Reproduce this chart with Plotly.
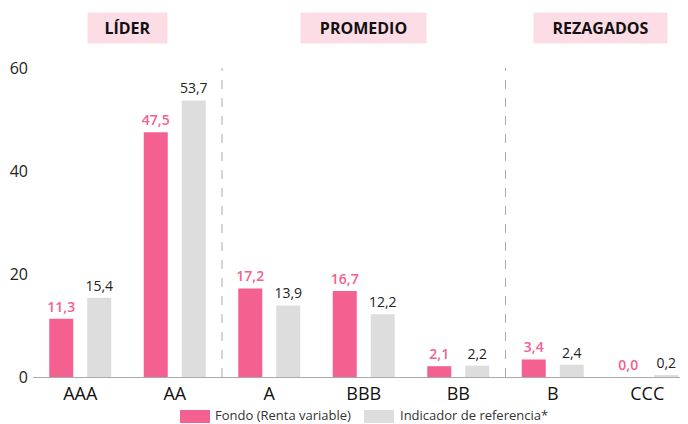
import plotly.graph_objects as go

categories = ["AAA", "AA", "A", "BBB", "BB", "B", "CCC"]
fondo = [11.3, 47.5, 17.2, 16.7, 2.1, 3.4, 0.0]
indicador = [15.4, 53.7, 13.9, 12.2, 2.2, 2.4, 0.2]
series_names = ["Fondo (Renta variable)", "Indicador de referencia*"]
groups = ["LÍDER", "PROMEDIO", "REZAGADOS"]
group_centers = [0.5, 3, 5.5]
group_widths = [79, 125, 133]
dividers = [1.5, 4.5]
y_ticks = [0, 20, 40, 60]

PINK = "#f46090"
GREY = "#dddddd"
FONT = "Open Sans"

# page has an 8px body margin: figure is 680x416 so it ends at 688x424
L, T, B = 25, 60, 47
W, H = 680, 416
PW = W - L
PH = H - T - B

fig = go.Figure()
fig.add_trace(go.Bar(
    x=categories, y=fondo, name=series_names[0],
    marker=dict(color=PINK, line=dict(width=0)),
    width=0.254, offset=-0.328,
    texttemplate="%{y:.1f}", textposition="outside", constraintext="none",
    textfont=dict(color=PINK, size=14, family=FONT, weight=600),
    cliponaxis=False, showlegend=False,
))
fig.add_trace(go.Bar(
    x=categories, y=indicador, name=series_names[1],
    marker=dict(color=GREY, line=dict(width=0)),
    width=0.254, offset=0.074,
    texttemplate="%{y:.1f}", textposition="outside", constraintext="none",
    textfont=dict(color="#222222", size=14, family=FONT),
    cliponaxis=False, showlegend=False,
))

for d in dividers:
    fig.add_shape(type="line", xref="x", yref="y", x0=d, x1=d, y0=0, y1=60.6,
                  line=dict(color="#aaaaaa", width=1, dash="dash"))

for g, c, w in zip(groups, group_centers, group_widths):
    fig.add_annotation(x=c, xref="x", y=1 + 40 / PH, yref="paper", text="<b>%s</b>" % g,
                       showarrow=False, bgcolor="#fcdde6", width=w, height=30,
                       borderpad=0, xanchor="center", yanchor="middle",
                       font=dict(family=FONT, size=16, color="#111111"))

# custom legend (positions in page pixels, converted to paper)
def px_to_paper(xp):
    return (xp - 8 - L) / PW

leg_y = -(416 - 377) / PH
items = [(PINK, series_names[0], 180, 213), (GREY, series_names[1], 364, 398)]
for col, name, sx, tx in items:
    fig.add_shape(type="rect", xref="paper", yref="paper",
                  x0=px_to_paper(sx), x1=px_to_paper(sx + 30),
                  y0=leg_y - 7 / PH, y1=leg_y + 6 / PH,
                  fillcolor=col, line=dict(width=0))
    fig.add_annotation(x=px_to_paper(tx), xref="paper", y=(-(414.5 - 377) / PH), yref="paper",
                       text=name, showarrow=False, xanchor="left", yanchor="middle",
                       font=dict(family=FONT, size=13, color="#333333"))

fig.update_layout(
    width=W, height=H,
    margin=dict(l=L, r=0, t=T, b=B, autoexpand=False),
    plot_bgcolor="white", paper_bgcolor="white",
    separators=",.",
    barmode="overlay",
    font=dict(family=FONT, color="#222222"),
    xaxis=dict(range=[-0.5, -0.5 + PW / 94.5], showline=True, linecolor="#aaaaaa", linewidth=1,
               ticks="", tickfont=dict(size=18, color="#111111"), showgrid=False,
               fixedrange=True),
    yaxis=dict(range=[0, 60], tickvals=y_ticks, showgrid=False, zeroline=False,
               showline=False, ticks="", tickfont=dict(size=16, color="#222222"),
               ticklabelstandoff=4),
)

fig.write_html("out.html")
